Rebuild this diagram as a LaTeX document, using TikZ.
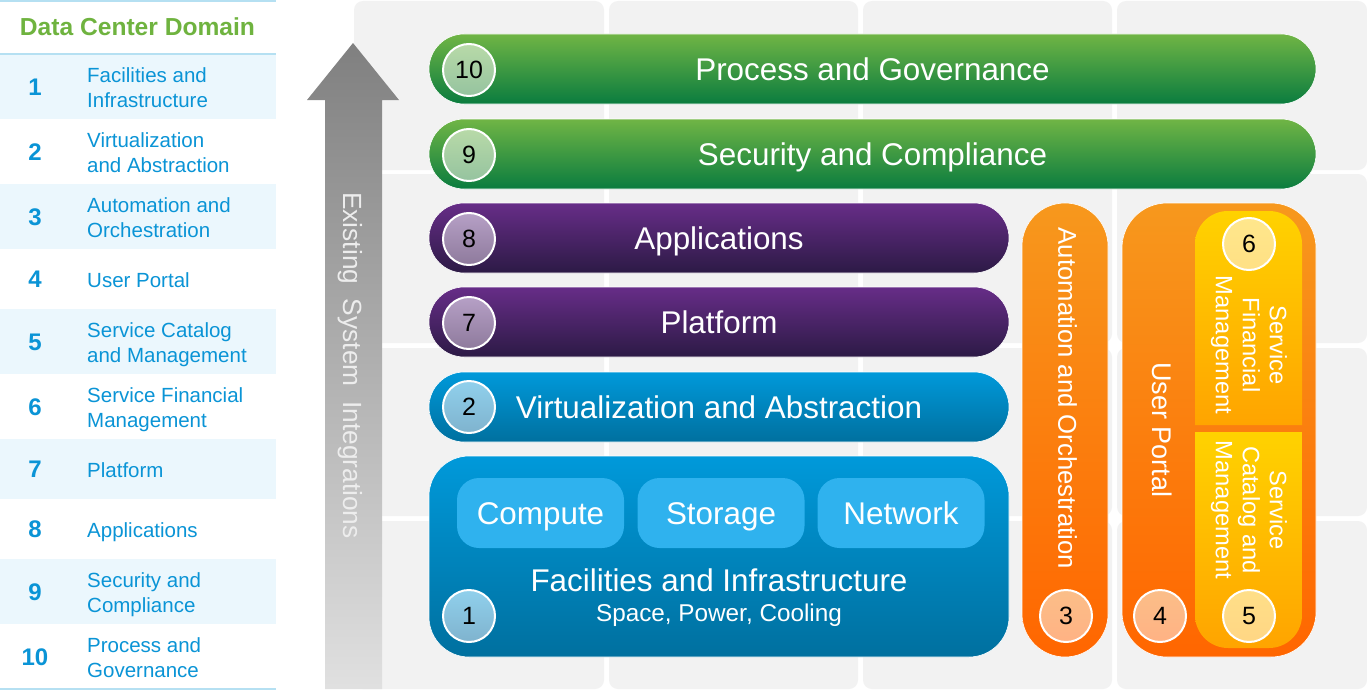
\documentclass[tikz,border=0pt]{standalone}
\usepackage{fontspec}
\setmainfont{Liberation Sans}
\definecolor{tile}{HTML}{F2F2F2}
\definecolor{rowblue}{HTML}{EBF7FD}
\definecolor{ruleblue}{HTML}{B5E0F2}
\definecolor{tblue}{HTML}{0A94D6}
\definecolor{hgreen}{HTML}{6FB33F}
\definecolor{gt}{HTML}{70B545}\definecolor{gb}{HTML}{0A7C3F}
\definecolor{pt}{HTML}{672D88}\definecolor{pb}{HTML}{2C1A45}
\definecolor{bt}{HTML}{0099DA}\definecolor{bb}{HTML}{00709F}
\definecolor{btile}{HTML}{2FB2EE}
\definecolor{ot}{HTML}{F7981D}\definecolor{ob}{HTML}{FF6600}
\definecolor{yt}{HTML}{FFD200}\definecolor{yb}{HTML}{FFA400}
\definecolor{c10t}{HTML}{B8DAA8}\definecolor{c10b}{HTML}{95C39F}
\definecolor{c8t}{HTML}{B6A0C6}\definecolor{c8b}{HTML}{8E7A9C}
\definecolor{c2t}{HTML}{90D0EC}\definecolor{c2b}{HTML}{7FB3CE}
\definecolor{c3t}{HTML}{FBBE88}\definecolor{c3b}{HTML}{FFB284}
\definecolor{c6t}{HTML}{FFE78C}\definecolor{c6b}{HTML}{FFE084}
\definecolor{c5t}{HTML}{FFDF88}\definecolor{c5b}{HTML}{FFD684}
\definecolor{vgray}{HTML}{EDEDED}
\tikzset{
 x=1pt,y=-1pt,
 num/.style={text=tblue,font=\fontsize{24}{24}\selectfont\bfseries,inner sep=0pt,text height=17.2pt,text depth=0pt},
 lab/.style={text=tblue,font=\fontsize{20.5}{25}\selectfont,inner sep=0pt,align=left,anchor=west,text height=14.7pt,text depth=0pt},
 labtwo/.style={lab,text height=39.7pt},
 big/.style={font=\fontsize{31.4}{31.4}\selectfont,text height=22.5pt,text depth=0pt},
 pill/.style n args={2}{inner sep=0pt,outer sep=0pt,draw=white,line width=.6pt,rounded corners=#1,text=white,minimum height=#2},
 gbar/.style={pill={35pt}{70pt},top color=gt,bottom color=gb,minimum width=887pt,big},
 pbar/.style={pill={35pt}{70pt},top color=pt,bottom color=pb,minimum width=580pt,big},
 bbar/.style={pill={35pt}{70pt},top color=bt,bottom color=bb,minimum width=580pt,big},
 inner/.style={fill=btile,rounded corners=22pt,minimum width=167pt,minimum height=70pt,inner sep=0pt,text=white,big},
 badge/.style n args={2}{circle,draw=white,line width=2pt,minimum size=52pt,inner sep=0pt,top color=#1,bottom color=#2,text=black,font=\fontsize{25}{25}\selectfont,text height=17.9pt,text depth=0pt},
 vtext/.style={rotate=-90,inner sep=0pt,text=white},
}
\begin{document}
\begin{tikzpicture}
\useasboundingbox (0,0) rectangle (1367,693);
\fill[white] (0,0) rectangle (1367,693);
% background tiles
\foreach \xa/\xb in {354/604,609/858,863/1112,1117/1367}{
 \foreach \ya/\yb in {1/170,174/343,348/516,521/689}{
  \fill[tile,rounded corners=9pt] (\xa,\ya) rectangle (\xb,\yb);
 }}
% table
\fill[ruleblue] (0,0) rectangle (276,2);
\fill[ruleblue] (0,53) rectangle (276,55);
\fill[ruleblue] (0,688) rectangle (276,690);
\foreach \ya/\yb in {55/119,184/249,309/374,439/499,559/624}{
 \fill[rowblue] (0,\ya) rectangle (276,\yb);
}
\node[inner sep=0pt,text=hgreen,font=\fontsize{24.6}{24.6}\selectfont\bfseries,text height=17.6pt,text depth=0pt] (title) at (137.5,27) {Data Center Domain};
\node[num] (n1) at (35,87) {1};
\node[num] (n2) at (35,152) {2};
\node[num] (n3) at (35,217) {3};
\node[num] (n4) at (35,279) {4};
\node[num] (n5) at (35,342) {5};
\node[num] (n6) at (35,407) {6};
\node[num] (n7) at (35,469) {7};
\node[num] (n8) at (35,529) {8};
\node[num] (n9) at (35,592) {9};
\node[num] (n10) at (35,657) {10};
\node[labtwo] (l1) at (87,87.5) {Facilities and\\Infrastructure};
\node[labtwo] (l2) at (87,152.5) {Virtualization\\and Abstraction};
\node[labtwo] (l3) at (87,217.5) {Automation and\\Orchestration};
\node[lab] (l4) at (87,280) {User Portal};
\node[labtwo] (l5) at (87,342.5) {Service Catalog\\and Management};
\node[labtwo] (l6) at (87,407.5) {Service Financial\\Management};
\node[lab] (l7) at (87,470) {Platform};
\node[lab] (l8) at (87,530) {Applications};
\node[labtwo] (l9) at (87,592.5) {Security and\\Compliance};
\node[labtwo] (l10) at (87,657.5) {Process and\\Governance};
% arrow
\shade[top color=black!50,bottom color=black!12]
 (353,43) -- (399,100) -- (382,100) -- (382,689) -- (325,689) -- (325,100) -- (307,100) -- cycle;
\node[vtext,text=vgray,font=\fontsize{26.3}{26.3}\selectfont,text height=18.8pt,text depth=0pt] (arrowtext) at (352.5,365.5) {Existing\ \ System\ \ Integrations};
% bars
\node[gbar] (b10) at (872.5,69) {Process and Governance};
\node[gbar] (b9) at (872.5,154) {Security and Compliance};
\node[pbar] (b8) at (719,238) {Applications};
\node[pbar] (b7) at (719,322) {Platform};
\node[bbar] (b2) at (719,407) {Virtualization and Abstraction};
\node[pill={40pt}{201pt},top color=bt,bottom color=bb,minimum width=580pt] (b1) at (719,556.5) {};
\node[inner] (compute) at (540.5,513) {Compute};
\node[inner] (storage) at (721,513) {Storage};
\node[inner] (network) at (901,513) {Network};
\node[inner sep=0pt,text=white,big] (fac) at (719,580) {Facilities and Infrastructure};
\node[inner sep=0pt,text=white,font=\fontsize{24.3}{24.3}\selectfont,text height=17.4pt,text depth=0pt] (spc) at (719,613) {Space, Power, Cooling};
% orange
\node[pill={43pt}{454pt},top color=ot,bottom color=ob,minimum width=86pt] (b3) at (1065,430) {};
\node[vtext,font=\fontsize{25.7}{25.7}\selectfont,text height=18.4pt,text depth=0pt] (b3t) at (1067.5,398.5) {Automation and Orchestration};
\node[pill={45pt}{454pt},top color=ot,bottom color=ob,minimum width=194pt] (b4) at (1219,430) {};
\node[vtext,font=\fontsize{27}{27}\selectfont,text height=19.3pt,text depth=0pt] (b4t) at (1162,430) {User Portal};
\shade[top color=yt,bottom color=yb] (1195,425) [rounded corners=33pt] -- (1195,211) -- (1302,211) [sharp corners] -- (1302,425) -- cycle;
\shade[top color=yt,bottom color=yb] (1195,432) [rounded corners=33pt] -- (1195,648) -- (1302,648) [sharp corners] -- (1302,432) -- cycle;
\node[vtext,align=center,font=\fontsize{23.7}{27}\selectfont] (p6t) at (1249,345) {Service\\Financial\\Management};
\node[vtext,align=center,font=\fontsize{23.7}{27}\selectfont] (p5t) at (1249,510) {Service\\Catalog and\\Management};
% badges
\node[badge={c10t}{c10b}] (c10) at (469,70) {10};
\node[badge={c10t}{c10b}] (c9) at (469,155) {9};
\node[badge={c8t}{c8b}] (c8) at (469,239) {8};
\node[badge={c8t}{c8b}] (c7) at (469,323) {7};
\node[badge={c2t}{c2b}] (c2) at (469,407) {2};
\node[badge={c2t}{c2b}] (c1) at (469,616) {1};
\node[badge={c3t}{c3b}] (c3) at (1066,616) {3};
\node[badge={c3t}{c3b}] (c4) at (1160,616) {4};
\node[badge={c5t}{c5b}] (c5) at (1249,616) {5};
\node[badge={c6t}{c6b}] (c6) at (1249,244) {6};
\end{tikzpicture}
\end{document}
